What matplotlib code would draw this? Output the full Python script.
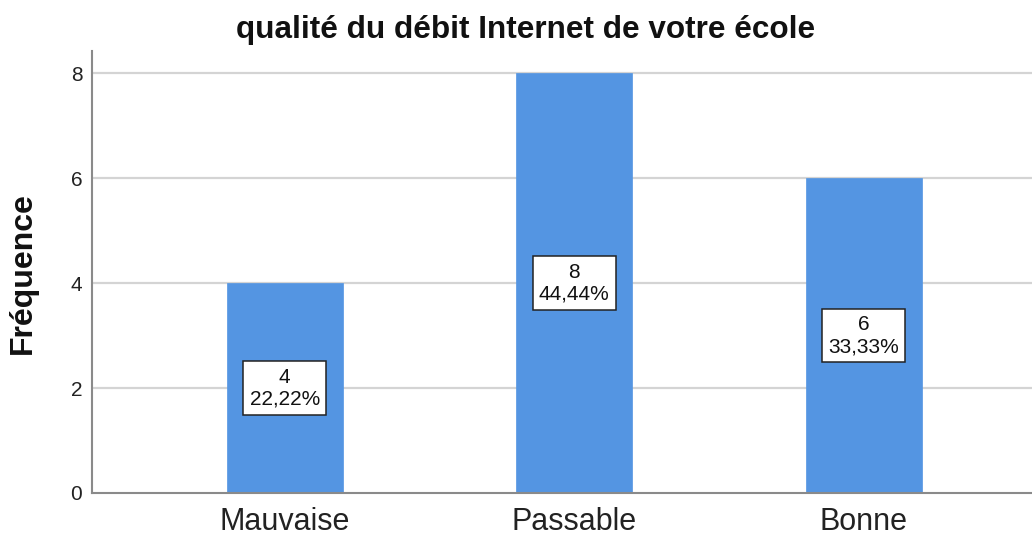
import matplotlib
matplotlib.use("Agg")
import matplotlib.pyplot as plt

categories = ["Mauvaise", "Passable", "Bonne"]
counts = [4, 8, 6]
percents = ["22,22%", "44,44%", "33,33%"]
yticks = [0, 2, 4, 6, 8]

W, H = 1032, 536
fig = plt.figure(figsize=(W / 100, H / 100), dpi=100)
plt.rcParams['font.family'] = ['Liberation Sans', 'DejaVu Sans']

left, right, bottom, top = 92, 1032, 493, 51
ax = fig.add_axes([left / W, 1 - bottom / H, (right - left) / W, (bottom - top) / H])

x = list(range(len(categories)))
ax.bar(x, counts, width=0.4, color="#5495E2", zorder=3, edgecolor="#5495E2", linewidth=0.5)

ax.set_xlim(-0.6656, 2.581)
ax.set_ylim(0, 8.42)
ax.set_yticks(yticks)
ax.set_yticklabels([str(v) for v in yticks])
ax.set_xticks(x)
ax.set_xticklabels(categories)
ax.tick_params(axis="y", length=0, pad=7, labelsize=15, labelcolor="#222222")
ax.tick_params(axis="x", length=0, pad=10, labelsize=22, labelcolor="#222222")

for v in yticks[1:]:
    ax.axhline(v, color="#d4d4d4", linewidth=1.6, zorder=1)

for s in ["top", "right"]:
    ax.spines[s].set_visible(False)
for s in ["left", "bottom"]:
    ax.spines[s].set_color("#8a8a8a")
    ax.spines[s].set_linewidth(1.5)
    ax.spines[s].set_zorder(4)

for xi, c, p in zip(x, counts, percents):
    ax.text(xi, c / 2, f"{c}\n{p}", ha="center", va="center", fontsize=15,
            color="#111111", zorder=5, linespacing=1.2,
            bbox=dict(boxstyle="square,pad=0.3", facecolor="white",
                      edgecolor="#222222", linewidth=1.1))

fig.text(525.5 / W, 1 - 38 / H, "qualité du débit Internet de votre école",
         ha="center", va="baseline", fontsize=22.7, fontweight="bold", color="#111111")
fig.text(23 / W, 1 - 273 / H, "Fréquence", rotation=90, ha="center", va="center",
         fontsize=23, fontweight="bold", color="#111111")

fig.savefig("out.png", dpi=100)
